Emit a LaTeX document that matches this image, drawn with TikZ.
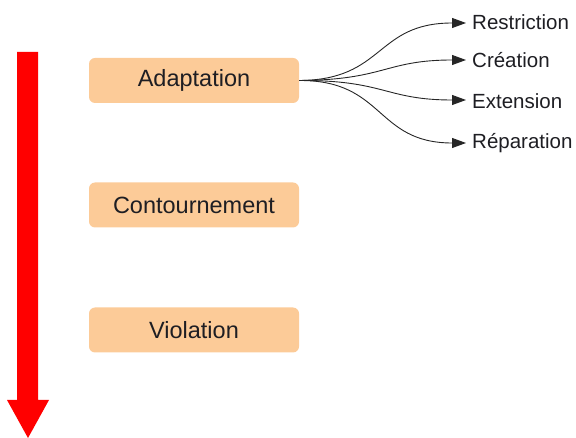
\documentclass[tikz,border=0pt]{standalone}
\usepackage{fontspec}
\setmainfont{Liberation Sans}
\usetikzlibrary{arrows.meta}
\definecolor{peach}{RGB}{252,203,152}
\definecolor{txt}{RGB}{30,30,35}
\tikzset{
  stage/.style={fill=peach, rounded corners=6pt, minimum width=210pt, minimum height=45pt, inner sep=0pt, text=txt, font=\fontsize{23.5}{27}\selectfont},
  kind/.style={anchor=west, inner sep=0pt, text=txt, font=\fontsize{20.5}{24}\selectfont},
  branch/.style={draw=black!85, line width=0.9pt, -{Triangle[length=14pt,width=10pt]}, shorten >=6pt}
}
\begin{document}
\begin{tikzpicture}[x=1pt,y=-1pt]
\useasboundingbox (0,0) rectangle (576,438);
% red arrow
\fill[red] (17,52) -- (38,52) -- (38,400) -- (49,400) -- (28,438) -- (7,400) -- (17,400) -- cycle;
% stages
\node[stage] (adapt) at (194,80.5) {Adaptation};
\node[stage] (cont) at (194,205) {Contournement};
\node[stage] (viol) at (194,330) {Violation};
% kinds
\node[kind] (restr) at (472,22) {Restriction};
\node[kind] (crea) at (472,60) {Création};
\node[kind] (ext) at (472,101) {Extension};
\node[kind] (rep) at (472,143) {Réparation};
\coordinate (s) at (adapt.east);
\draw[branch] (s) .. controls (385,80) and (375,23) .. (restr.west |- 0,23);
\draw[branch] (s) .. controls (385,80) and (385,60) .. (crea.west |- 0,60);
\draw[branch] (s) .. controls (385,80) and (385,100) .. (ext.west |- 0,100);
\draw[branch] (s) .. controls (385,80) and (375,143) .. (rep.west |- 0,143);
\end{tikzpicture}
\end{document}
